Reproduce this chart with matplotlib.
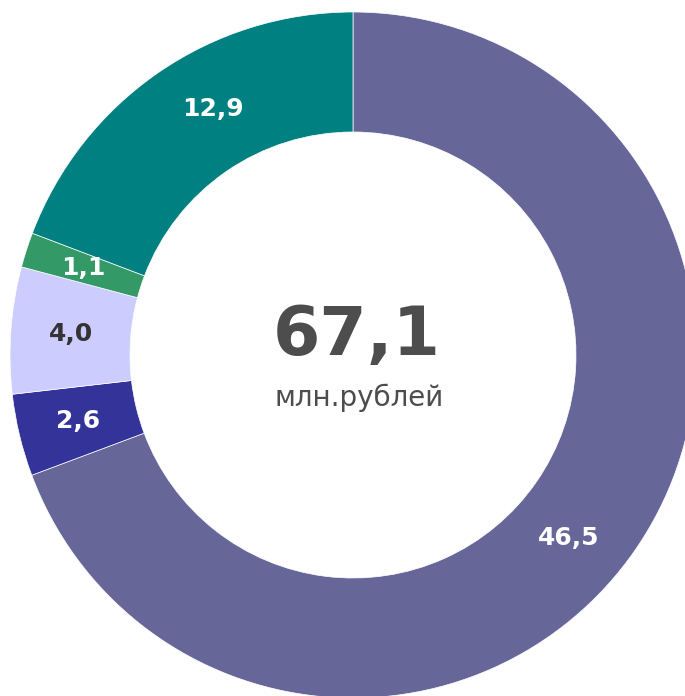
import numpy as np
import matplotlib
matplotlib.use("Agg")
import matplotlib.pyplot as plt

values = [46.5, 2.6, 4.0, 1.1, 12.9]
labels = ["46,5", "2,6", "4,0", "1,1", "12,9"]
colors = ["#666699", "#333399", "#ccccff", "#339966", "#008080"]
label_colors = ["white", "white", "#333333", "white", "white"]
label_shift = [-5.5, 0, 0, 0, -5]  # degrees, as in the original layout
total_text = "67,1"
unit_text = "млн.рублей"

W, H = 685, 696
fig = plt.figure(figsize=(W / 100, H / 100), dpi=100)
ax = fig.add_axes([0, 0, 1, 1])

cx, cy = 353, H - 355
r_out, ring = 343, 120
wedges, _ = ax.pie(values, colors=colors, startangle=90, counterclock=False,
                   center=(cx, cy), radius=r_out,
                   wedgeprops=dict(width=ring, edgecolor="white", linewidth=0.5))

r_lab = r_out - ring / 2
for w, txt, c, d in zip(wedges, labels, label_colors, label_shift):
    ang = np.deg2rad((w.theta1 + w.theta2) / 2 + d)
    ax.text(cx + r_lab * np.cos(ang), cy + r_lab * np.sin(ang), txt,
            ha="center", va="center", fontsize=18, fontweight="bold", color=c)

ax.text(cx + 4, H - 336, total_text, ha="center", va="center",
        fontsize=49, fontweight="bold", color="#4d4d4d")
ax.text(cx + 6, H - 398, unit_text, ha="center", va="center",
        fontsize=20, color="#4d4d4d")

ax.set_xlim(0, W)
ax.set_ylim(0, H)
ax.set_aspect("equal")
ax.axis("off")
fig.savefig("out.png", dpi=100)
